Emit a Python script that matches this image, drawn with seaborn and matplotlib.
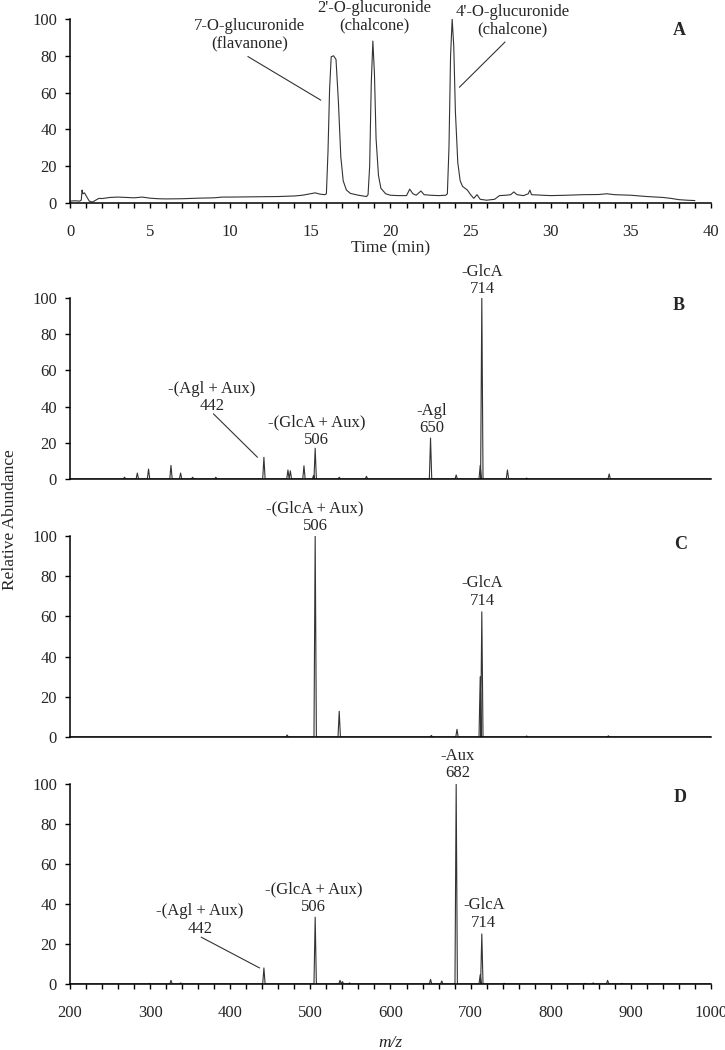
import numpy as np
import pandas as pd
import matplotlib
matplotlib.use("Agg")
import matplotlib.pyplot as plt
import seaborn as sns
from matplotlib.ticker import MultipleLocator

# chromatogram (panel A)
time_min = [0.0, 0.3, 0.6, 0.7, 0.75, 0.8, 0.9, 1.0, 1.2, 1.4, 1.6, 1.8, 2.0, 2.5, 3.0,
            3.5, 4.0, 4.5, 5.0, 5.5, 6.0, 7.0, 8.0, 9.0, 9.5, 10.0, 11.0, 12.0, 13.0,
            14.0, 14.5, 15.0, 15.3, 15.6, 15.9, 16.0, 16.1, 16.2, 16.3, 16.45, 16.6,
            16.75, 16.9, 17.05, 17.25, 17.5, 18.0, 18.5, 18.6, 18.7, 18.8, 18.9, 19.0,
            19.1, 19.25, 19.4, 19.7, 20.0, 20.5, 21.0, 21.2, 21.4, 21.6, 21.9, 22.1,
            22.5, 23.0, 23.45, 23.55, 23.65, 23.75, 23.85, 23.95, 24.05, 24.2, 24.35,
            24.5, 24.8, 25.0, 25.2, 25.4, 25.6, 26.0, 26.5, 26.8, 27.2, 27.5, 27.7, 27.9,
            28.3, 28.6, 28.7, 28.8, 29.5, 30.0, 31.0, 32.0, 33.0, 33.5, 34.0, 35.0, 36.0,
            37.0, 37.5, 38.0, 38.5, 39.0]
signal_a = [1.0, 1.2, 1.0, 1.5, 7.0, 5.0, 5.5, 4.0, 1.0, 0.5, 1.5, 2.5, 2.4, 3.0, 3.2,
            3.0, 2.8, 3.2, 2.6, 2.3, 2.2, 2.3, 2.6, 2.8, 3.2, 3.2, 3.3, 3.4, 3.5,
            3.8, 4.2, 5.0, 5.5, 4.8, 4.5, 5.0, 28.0, 62.0, 79.5, 80.0, 78.0,
            55.0, 25.0, 12.0, 7.0, 5.2, 4.2, 3.5, 4.5, 20.0, 65.0, 88.0, 70.0,
            35.0, 15.0, 8.0, 5.0, 4.2, 4.0, 4.0, 7.5, 5.0, 4.2, 6.5, 4.5,
            4.2, 4.0, 4.2, 5.0, 30.0, 80.0, 100.0, 85.0, 50.0, 22.0, 12.0,
            9.0, 7.0, 4.5, 2.5, 4.5, 2.0, 1.5, 2.0, 4.0, 4.2, 4.5, 6.0, 4.5,
            4.0, 5.0, 7.0, 4.5, 4.2, 4.0, 4.2, 4.5, 4.6, 5.0, 4.5, 4.2, 3.5,
            3.0, 2.5, 1.8, 1.5, 1.3]

# MS/MS peak lists (m/z, relative abundance)
mz_b = [268, 284, 298, 326, 338, 353, 382, 442, 472, 475, 492, 504, 506, 536, 570,
        650, 682, 712, 714, 746, 770, 873]
int_b = [1.0, 3.3, 5.5, 7.5, 3.3, 1.0, 1.0, 12.0, 5.0, 4.5, 7.3, 2.0, 17.0, 1.0, 1.5,
         22.6, 2.2, 7.5, 100.0, 5.0, 0.5, 2.8]
mz_c = [471, 506, 536, 651, 683, 712, 714, 770, 872]
int_c = [1.0, 100.0, 12.8, 0.8, 3.8, 30.0, 62.3, 0.5, 0.6]
mz_d = [299, 326, 338, 442, 506, 537, 540, 549, 650, 664, 682, 712, 714, 742, 843,
        853, 871, 889]
int_d = [0.3, 1.8, 0.5, 8.0, 33.4, 1.8, 1.2, 0.5, 2.3, 1.5, 100.0, 4.6, 25.0, 0.3, 0.3,
         0.5, 1.8, 0.3]

peak_half_width = 1.5

sns.set_theme(style="ticks")
plt.rcParams["font.family"] = ["Liberation Serif", "DejaVu Serif"]
plt.rcParams["font.size"] = 12
plt.rcParams["axes.linewidth"] = 1.1

fig = plt.figure(figsize=(7.25, 10.5), dpi=100)
left, width = 0.0966, 0.884
ax_a = fig.add_axes([left, 0.8067, width, 0.1752])
ax_b = fig.add_axes([left, 0.5438, width, 0.1724])
ax_c = fig.add_axes([left, 0.2981, width, 0.1914])
ax_d = fig.add_axes([left, 0.0629, width, 0.1905])

line_kw = dict(color="#333333", linewidth=0.8)


def spectrum_frame(mz, inten):
    # each centroid drawn as a narrow triangle on a zero baseline
    xs, ys = [200.0], [0.0]
    for m, h in sorted(zip(mz, inten)):
        xs += [m - peak_half_width, m, m + peak_half_width]
        ys += [0.0, h, 0.0]
    xs.append(1000.0)
    ys.append(0.0)
    return pd.DataFrame({"mz": xs, "ab": ys})


def style_axis(ax, show_x):
    sns.despine(ax=ax)
    ax.set_ylim(0, 100)
    ax.yaxis.set_major_locator(MultipleLocator(20))
    ax.tick_params(axis="y", direction="out", length=3.6, width=1.0, pad=5.8,
                   labelsize=12, color="black")
    if show_x:
        ax.tick_params(axis="x", which="both", direction="out", length=3.6, width=1.0,
                       pad=11.5, labelsize=12, color="black")
    else:
        ax.tick_params(axis="x", which="both", bottom=False, labelbottom=False)
    ax.set_xlabel("")
    ax.set_ylabel("")
    for s in ax.spines.values():
        s.set_color("black")


# panel A
df_a = pd.DataFrame({"t": time_min, "s": signal_a})
sns.lineplot(data=df_a, x="t", y="s", ax=ax_a, sort=False, **line_kw)
ax_a.set_xlim(0, 40)
ax_a.xaxis.set_major_locator(MultipleLocator(5))
ax_a.xaxis.set_minor_locator(MultipleLocator(1))
style_axis(ax_a, True)
ax_a.set_xlabel("Time (min)", fontsize=12.5, labelpad=0)

for ax, mz, inten in [(ax_b, mz_b, int_b), (ax_c, mz_c, int_c), (ax_d, mz_d, int_d)]:
    sns.lineplot(data=spectrum_frame(mz, inten), x="mz", y="ab", ax=ax, sort=False,
                 **line_kw)
    ax.set_xlim(200, 1000)
    style_axis(ax, ax is ax_d)

ax_d.xaxis.set_major_locator(MultipleLocator(100))
ax_d.xaxis.set_minor_locator(MultipleLocator(20))
ax_d.set_xlabel("m/z", fontsize=12.5, style="italic", labelpad=10)

txt = dict(ha="center", va="center", fontsize=12, linespacing=1.12)
lab = dict(ha="center", va="center", fontsize=13, fontweight="bold")
conn = dict(arrowstyle="-", color="#333333", lw=0.8, shrinkA=0, shrinkB=0)

ax_a.text(11.2, 91.4, "7-O-glucuronide\n(flavanone)", **txt)
ax_a.text(19.0, 101.1, "2'-O-glucuronide\n(chalcone)", **txt)
ax_a.text(27.6, 98.9, "4'-O-glucuronide\n(chalcone)", **txt)
ax_a.annotate("", xy=(15.65, 55.9), xytext=(11.1, 79.6), arrowprops=conn)
ax_a.annotate("", xy=(24.3, 62.9), xytext=(27.15, 87.5), arrowprops=conn)
ax_a.text(38.0, 94, "A", **lab)

ax_b.text(715, 109.8, "-GlcA\n714", **txt)
ax_b.text(377, 45, "-(Agl + Aux)\n442", **txt)
ax_b.text(508, 26.5, "-(GlcA + Aux)\n506", **txt)
ax_b.text(651, 32.9, "-Agl\n650", **txt)
ax_b.annotate("", xy=(434, 12), xytext=(379, 36), arrowprops=conn)
ax_b.text(960, 96, "B", **lab)

ax_c.text(506, 109.2, "-(GlcA + Aux)\n506", **txt)
ax_c.text(714.5, 72.1, "-GlcA\n714", **txt)
ax_c.text(962, 96, "C", **lab)

ax_d.text(683.5, 109.7, "-Aux\n682", **txt)
ax_d.text(503.7, 42.8, "-(GlcA + Aux)\n506", **txt)
ax_d.text(362, 32, "-(Agl + Aux)\n442", **txt)
ax_d.text(716.5, 35, "-GlcA\n714", **txt)
ax_d.annotate("", xy=(436.6, 8), xytext=(363.7, 23.4), arrowprops=conn)
ax_d.text(962, 93, "D", **lab)

fig.text(0.014, 0.505, "Relative Abundance", rotation=90, ha="center", va="center",
         fontsize=12.5)

fig.savefig("out.png", dpi=100)
